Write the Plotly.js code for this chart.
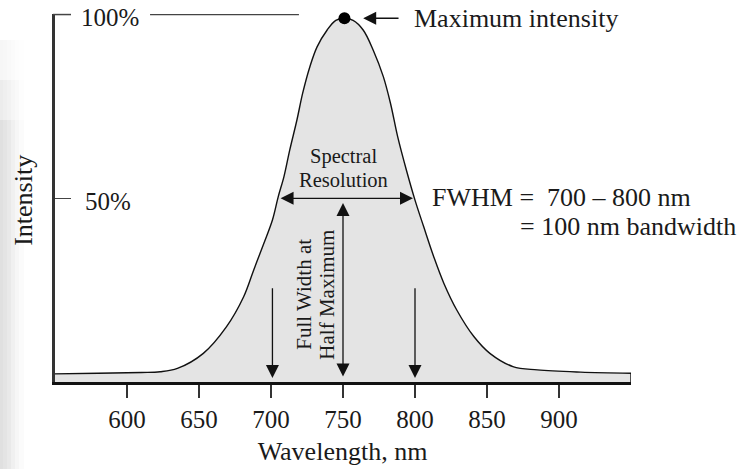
<!DOCTYPE html>
<html>
<head>
<meta charset="utf-8">
<script src="https://cdn.plot.ly/plotly-3.0.1.min.js"></script>
<style>
  html, body { margin: 0; padding: 0; background: #ffffff; }
  #chart { width: 746px; height: 469px; }
</style>
</head>
<body>
<div id="chart"></div>
<script>
// ---- Data ----
const wavelength = [549.3, 580, 610, 623, 635, 653, 669, 681, 688, 695,
                    701, 705, 709, 713, 718, 722, 727, 732, 739, 745,
                    751, 757, 764, 771, 778, 783, 788, 794, 800, 806,
                    813, 820, 829, 841, 852, 868, 885, 915, 950];
const intensity  = [2.2, 2.4, 2.6, 2.8, 3.7, 7.8, 15.0, 23.2, 30.5, 37.7,
                    44.1, 50.4, 55.9, 63.1, 71.3, 78.6, 85.8, 91.2, 95.8, 98.4,
                    99.0, 98.4, 95.8, 90.3, 83.1, 75.8, 66.7, 57.7, 49.5, 42.3,
                    34.1, 26.9, 19.6, 12.3, 7.8, 4.2, 3.3, 2.7, 2.4];
const peakWavelength = 751;
const peakIntensity = 99;
const halfMaxLow = 700;
const halfMaxHigh = 800;
const halfMax = 50;
const xTickVals = [600, 650, 700, 750, 800, 850, 900];
const xTickText = ['600', '650', '700', '750', '800', '850', '900'];
const yTickVals = [50, 100];
const yTickText = ['50%', '100%'];

// ---- Styling ----
const SERIF = '"Liberation Serif", "Times New Roman", Times, serif';
const INK = '#1a1a1a';
const X0 = wavelength[0], X1 = wavelength[wavelength.length - 1];
const Y_RANGE = [0, 100.15];

const traces = [
  {
    x: wavelength, y: intensity, type: 'scatter', mode: 'lines',
    line: { color: '#111', width: 1.4, shape: 'spline', smoothing: 1 },
    fill: 'tozeroy', fillcolor: '#e4e4e4', hoverinfo: 'skip'
  },
  { // right closing edge of the filled band
    x: [X1, X1], y: [0, intensity[intensity.length - 1]], type: 'scatter', mode: 'lines',
    line: { color: '#111', width: 1.4 }, hoverinfo: 'skip'
  },
  { // maximum point
    x: [peakWavelength], y: [peakIntensity], type: 'scatter', mode: 'markers',
    marker: { color: '#000', size: 12 }, hoverinfo: 'skip', cliponaxis: false
  }
];

function arrow(xTip, yTip, xTail, yTail, both) {
  const a = {
    x: xTip, y: yTip, ax: xTail, ay: yTail, xref: 'x', yref: 'y', axref: 'x', ayref: 'y',
    text: '', showarrow: true, arrowhead: 2, arrowsize: 2, arrowwidth: 1.3, arrowcolor: '#111',
    standoff: 0, startstandoff: 0
  };
  if (both) { a.arrowside = 'end+start'; a.startarrowhead = 2; a.startarrowsize = 2; }
  return a;
}

function label(text, x, y, size, xanchor, extra) {
  return Object.assign({
    text: text, x: x, y: y, xref: 'x', yref: 'y', showarrow: false,
    xanchor: xanchor || 'center', yanchor: 'middle',
    font: { family: SERIF, size: size, color: INK }
  }, extra || {});
}

// px → paper helpers
const L = 54, PW = 577, T = 14, PH = 368;
const pxX = px => (px - L) / PW;
const pxY = py => (T + PH - py) / PH;

// faint scan shadow along the left edge (solid colours, no opacity)
const shadowCols = [
  [0, 3, '#e0e0e0', '#ececec', '#f6f6f6'],
  [3, 7, '#e4e4e4', '#efefef', '#f7f7f7'],
  [7, 11, '#e9e9e9', '#f2f2f2', '#f9f9f9'],
  [11, 15, '#f0f0f0', '#f6f6f6', '#fbfbfb'],
  [15, 19, '#f6f6f6', '#f9f9f9', '#fdfdfd'],
  [19, 24, '#fbfbfb', '#fdfdfd', '#fefefe']
];
const shadow = [];
shadowCols.forEach(s => {
  [[469, 120, s[2]], [120, 80, s[3]], [80, 40, s[4]]].forEach(b => {
    shadow.push({ type: 'rect', xref: 'paper', yref: 'paper', x0: pxX(s[0]), x1: pxX(s[1]),
      y0: pxY(b[0]), y1: pxY(b[1]), fillcolor: b[2], line: { width: 0 }, layer: 'below' });
  });
});

const yLabels = yTickVals.map((v, i) => ({
  text: yTickText[i], x: pxX(i === 0 ? 83 : 79), xref: 'paper', y: v - 0.8, yref: 'y',
  xanchor: 'left', yanchor: 'middle', showarrow: false,
  font: { family: SERIF, size: 25, color: INK }
}));

const layout = {
  width: 746, height: 469,
  margin: { l: L, r: 115, t: T, b: 87 },
  paper_bgcolor: '#ffffff', plot_bgcolor: 'rgba(0,0,0,0)',
  showlegend: false,
  font: { family: SERIF, color: INK },
  xaxis: {
    range: [X0, X1], tickvals: xTickVals, ticktext: xTickText,
    ticks: 'outside', ticklen: 13, tickwidth: 1.3, tickcolor: '#333',
    showline: true, linewidth: 2.5, linecolor: '#111',
    showgrid: false, zeroline: false, fixedrange: true,
    tickfont: { family: SERIF, size: 25, color: INK },
    ticklabelstandoff: 0,
    title: { text: 'Wavelength, nm', font: { family: SERIF, size: 26, color: INK }, standoff: 11 }
  },
  yaxis: {
    range: Y_RANGE, tickvals: yTickVals, ticktext: yTickText,
    ticks: 'inside', ticklen: 17, tickwidth: 1.5, tickcolor: '#444',
    showticklabels: false,
    showline: true, linewidth: 2, linecolor: '#333',
    showgrid: false, zeroline: false, fixedrange: true
  },
  shapes: shadow.concat([
    { type: 'line', xref: 'x', yref: 'paper', x0: X0, x1: X0, y0: 0, y1: 100 / Y_RANGE[1],
      line: { color: '#333', width: 2 }, layer: 'above' },
    { type: 'line', xref: 'paper', yref: 'paper', x0: pxX(53), x1: pxX(71),
      y0: 100 / Y_RANGE[1], y1: 100 / Y_RANGE[1],
      line: { color: '#444', width: 1.5 }, layer: 'above' },
    { type: 'line', xref: 'x', yref: 'y', x0: 616, x1: 719.4, y0: 100, y1: 100,
      line: { color: '#444', width: 1.5 } }
  ]),
  annotations: yLabels.concat([
    { text: 'Intensity', x: pxX(24), xref: 'paper', y: 49.3, yref: 'y', textangle: -90,
      showarrow: false, xanchor: 'center', yanchor: 'middle',
      font: { family: SERIF, size: 26, color: INK } },
    arrow(764, peakIntensity, 789.6, peakIntensity, false),
    label('Maximum intensity', 797.9, peakIntensity, 26, 'left'),
    arrow(halfMaxHigh - 1.4, halfMax, halfMaxLow + 5.6, halfMax, true),
    label('Spectral', 750, 61.5, 20.5, 'center'),
    label('Resolution', 750, 55.0, 20.5, 'center'),
    arrow(750, 48.7, 750, 1.1, true),
    arrow(701, 1.1, 701, 25.9, false),
    arrow(halfMaxHigh, 1.1, halfMaxHigh, 25.9, false),
    label('Full Width at', 723.3, 23.9, 21, 'center', { textangle: -90 }),
    label('Half Maximum', 739.2, 23.9, 21, 'center', { textangle: -90 }),
    label('FWHM =  700 – 800 nm', 810.4, 50.2, 26, 'left'),
    label('= 100 nm bandwidth', 871.5, 42.4, 26, 'left')
  ])
};

Plotly.newPlot('chart', traces, layout, { staticPlot: true, displayModeBar: false });
</script>
</body>
</html>
